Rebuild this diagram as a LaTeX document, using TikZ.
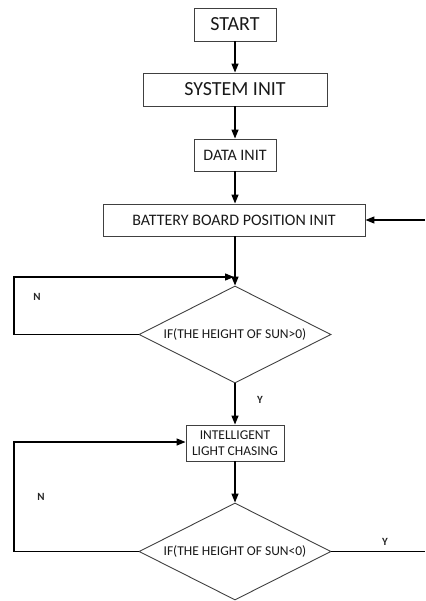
\documentclass[tikz,border=0pt]{standalone}
\usepackage{fontspec}
\setmainfont{Carlito}
\usetikzlibrary{shapes.geometric,arrows.meta}
\begin{document}
\begin{tikzpicture}[x=1pt,y=-1pt,
  box/.style={draw=black!75,line width=0.9pt,rectangle,inner sep=0pt,align=center,text=black!90},
  dia/.style={draw=black!75,line width=0.9pt,diamond,aspect=1.98,inner sep=0pt,minimum width=192pt,minimum height=97pt,text=black!90,font=\fontsize{13.5}{16}\selectfont},
  arr/.style={line width=1.3pt,-{Triangle[length=9pt,width=7pt]}},
  ln/.style={line width=1.3pt},
  lab/.style={font=\bfseries\fontsize{11}{13}\selectfont,text=black!85}]
\useasboundingbox (0,0) rectangle (425,601);
\node[box,minimum width=82pt,minimum height=33pt,font=\fontsize{20}{24}\selectfont] (start) at (235,24.5) {START};
\node[box,minimum width=184pt,minimum height=33pt,font=\fontsize{20}{24}\selectfont] (sys) at (235,89.5) {SYSTEM INIT};
\node[box,minimum width=82pt,minimum height=32pt,font=\fontsize{16}{19}\selectfont] (data) at (235,155) {DATA INIT};
\node[box,minimum width=262pt,minimum height=32pt,font=\fontsize{16}{19}\selectfont] (batt) at (234,220) {BATTERY BOARD POSITION INIT};
\node[dia] (d1) at (235,334.5) {IF(THE HEIGHT OF SUN>0)};
\node[box,minimum width=98pt,minimum height=36pt,font=\fontsize{13.5}{16.5}\selectfont] (intel) at (235,443) {INTELLIGENT\\LIGHT CHASING};
\node[dia] (d2) at (235,551.5) {IF(THE HEIGHT OF SUN<0)};
\coordinate (rin) at (425,220);
\coordinate (j1) at (234,277);
\coordinate (rout) at (425,551.5);
\draw[arr] (start) -- (sys);
\draw[arr] (sys) -- (data);
\draw[arr] (data.south) -- (data.south |- batt.north);
\draw[arr] (rin) -- (batt.east);
\draw[arr] (batt.south -| d1.north) -- (d1.north);
\draw[arr] (d1.west) -- (14,334.5) -- (14,277) -- (j1);
\draw[arr] (d1.south) -- (intel.north);
\draw[arr] (intel.south) -- (d2.north);
\draw[arr] (d2.west) -- (14,551.5) -- (14,442) -- (intel.west |- 0,442);
\draw[ln] (d2.east) -- (rout);
\node[lab] (n1) at (37,297) {N};
\node[lab] (y1) at (260,399.5) {Y};
\node[lab] (n2) at (41,497) {N};
\node[lab] (y2) at (385,542) {Y};
\end{tikzpicture}
\end{document}
